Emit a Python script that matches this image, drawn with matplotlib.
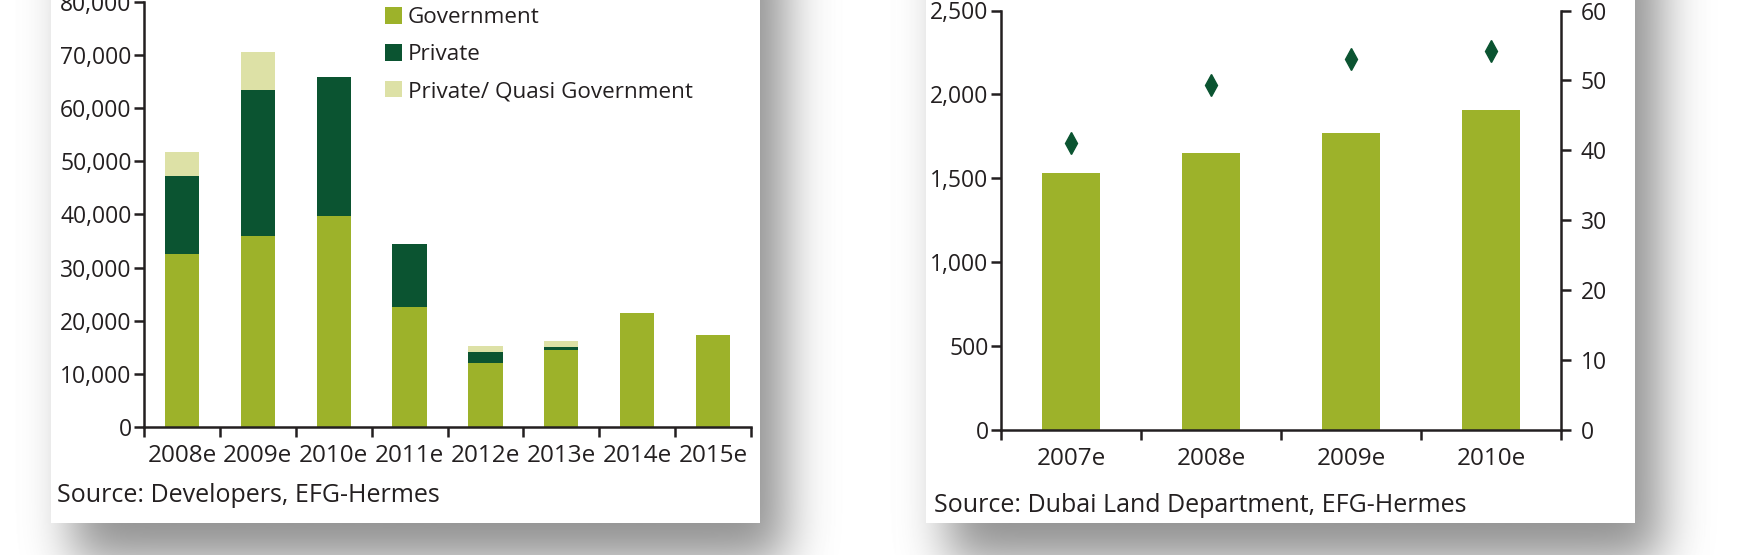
import math
import numpy as np
import matplotlib
matplotlib.use("Agg")
import matplotlib.pyplot as plt
from matplotlib.patches import Rectangle
from matplotlib.ticker import FuncFormatter

# Left chart: units under construction by developer type
years_left = ["2008e", "2009e", "2010e", "2011e", "2012e", "2013e", "2014e", "2015e"]
government = [32500, 36000, 39800, 22500, 12000, 14500, 21400, 17300]
private = [14700, 27500, 26100, 11900, 2100, 600, 0, 0]
quasi_gov = [4500, 7000, 0, 0, 1100, 1000, 0, 0]

# Right chart: bars on left axis, diamonds on right axis
years_right = ["2007e", "2008e", "2009e", "2010e"]
bar_values = [1530, 1652, 1770, 1907]
diamond_values = [41.1, 49.3, 53.0, 54.2]

GOV_COLOR = "#9db22a"
PRIV_COLOR = "#0b5431"
QUASI_COLOR = "#dde1a6"
TEXT_COLOR = "#231f20"

plt.rcParams["font.family"] = ["Open Sans", "DejaVu Sans"]
plt.rcParams["font.size"] = 17.5
plt.rcParams["text.color"] = TEXT_COLOR
plt.rcParams["axes.edgecolor"] = TEXT_COLOR
plt.rcParams["xtick.color"] = TEXT_COLOR
plt.rcParams["ytick.color"] = TEXT_COLOR

W, H = 1751, 555
fig = plt.figure(figsize=(W / 100, H / 100), dpi=100)

# background with soft drop shadows behind the two white boxes
bg = fig.add_axes([0, 0, 1, 1])
bg.set_xlim(0, W)
bg.set_ylim(H, 0)
bg.axis("off")
erf = np.vectorize(math.erf)
xx = np.arange(W) + 0.5
yy = np.arange(H) + 0.5


def soft_rect(x0, x1, y0, y1, s):
    fx = 0.5 * (erf((xx - x0) / (s * math.sqrt(2))) - erf((xx - x1) / (s * math.sqrt(2))))
    fy = 0.5 * (erf((yy - y0) / (s * math.sqrt(2))) - erf((yy - y1) / (s * math.sqrt(2))))
    return np.outer(fy, fx)


shadow = 0.43 * soft_rect(72, 785, -60, 562, 24) + 0.43 * soft_rect(947, 1660, -60, 562, 24)
shadow = np.clip(shadow, 0, 0.5)
bg.imshow(1 - shadow, cmap="gray", vmin=0, vmax=1, extent=(0, W, H, 0), aspect="auto", zorder=0)
bg.add_patch(Rectangle((51, 0), 709, 523, facecolor="white", edgecolor="none", zorder=1))
bg.add_patch(Rectangle((926, 0), 709, 523, facecolor="white", edgecolor="none", zorder=1))

thousands = FuncFormatter(lambda v, p: f"{int(v):,}")


def style_axis(ax):
    ax.set_facecolor("none")
    for side in ["top", "right"]:
        ax.spines[side].set_visible(False)
    for side in ["left", "bottom"]:
        ax.spines[side].set_linewidth(1.8)
    ax.tick_params(axis="both", direction="out", length=7, width=1.8)
    ax.tick_params(axis="y", labelsize=16.5, pad=2)
    ax.tick_params(axis="x", which="minor", length=0, pad=12)
    ax.tick_params(axis="x", which="major", labelbottom=False)


# ---- left chart ----
ax1 = fig.add_axes([144 / W, 1 - 427 / H, 607 / W, 425 / H])
x = np.arange(len(years_left))
bottom2 = np.array(government) + np.array(private)
ax1.bar(x, government, width=0.45, color=GOV_COLOR, label="Government")
ax1.bar(x, private, width=0.45, bottom=government, color=PRIV_COLOR, label="Private")
ax1.bar(x, quasi_gov, width=0.45, bottom=bottom2, color=QUASI_COLOR, label="Private/ Quasi Government")
ax1.set_xlim(-0.5, len(years_left) - 0.5)
ax1.set_ylim(0, 80000)
ax1.set_yticks(np.arange(0, 80001, 10000))
ax1.yaxis.set_major_formatter(thousands)
ax1.set_xticks(np.arange(len(years_left) + 1) - 0.5)
ax1.set_xticks(x, minor=True)
ax1.set_xticklabels(years_left, minor=True)
style_axis(ax1)
ax1.legend(loc="upper left", bbox_to_anchor=(383 / W, 1 - 5 / H), bbox_transform=fig.transFigure,
           frameon=False, handlelength=0.75, handleheight=0.75, handletextpad=0.25,
           labelspacing=0.7, borderaxespad=0, borderpad=0.1, fontsize=16.2)
fig.text(57 / W, 1 - 495 / H, "Source: Developers, EFG-Hermes", fontsize=18, va="center", ha="left")

# ---- right chart ----
ax2 = fig.add_axes([1001 / W, 1 - 430 / H, 560 / W, 419.5 / H])
x2 = np.arange(len(years_right))
ax2.bar(x2, bar_values, width=0.41, color=GOV_COLOR)
ax2.set_xlim(-0.5, len(years_right) - 0.5)
ax2.set_ylim(0, 2500)
ax2.set_yticks(np.arange(0, 2501, 500))
ax2.yaxis.set_major_formatter(thousands)
ax2.set_xticks(np.arange(len(years_right) + 1) - 0.5)
ax2.set_xticks(x2, minor=True)
ax2.set_xticklabels(years_right, minor=True)
style_axis(ax2)

ax3 = ax2.twinx()
ax3.set_facecolor("none")
ax3.plot(x2, diamond_values, linestyle="none", marker="d", markersize=11,
         color=PRIV_COLOR, markeredgecolor=PRIV_COLOR)
ax3.set_ylim(0, 60)
ax3.set_yticks(np.arange(0, 61, 10))
for side in ["top", "left", "bottom"]:
    ax3.spines[side].set_visible(False)
ax3.spines["right"].set_linewidth(1.8)
ax3.tick_params(axis="y", direction="out", length=7, width=1.8, pad=7, labelsize=16.5)
fig.text(934 / W, 1 - 506 / H, "Source: Dubai Land Department, EFG-Hermes", fontsize=18, va="center", ha="left")

fig.savefig("out.png", dpi=100)
